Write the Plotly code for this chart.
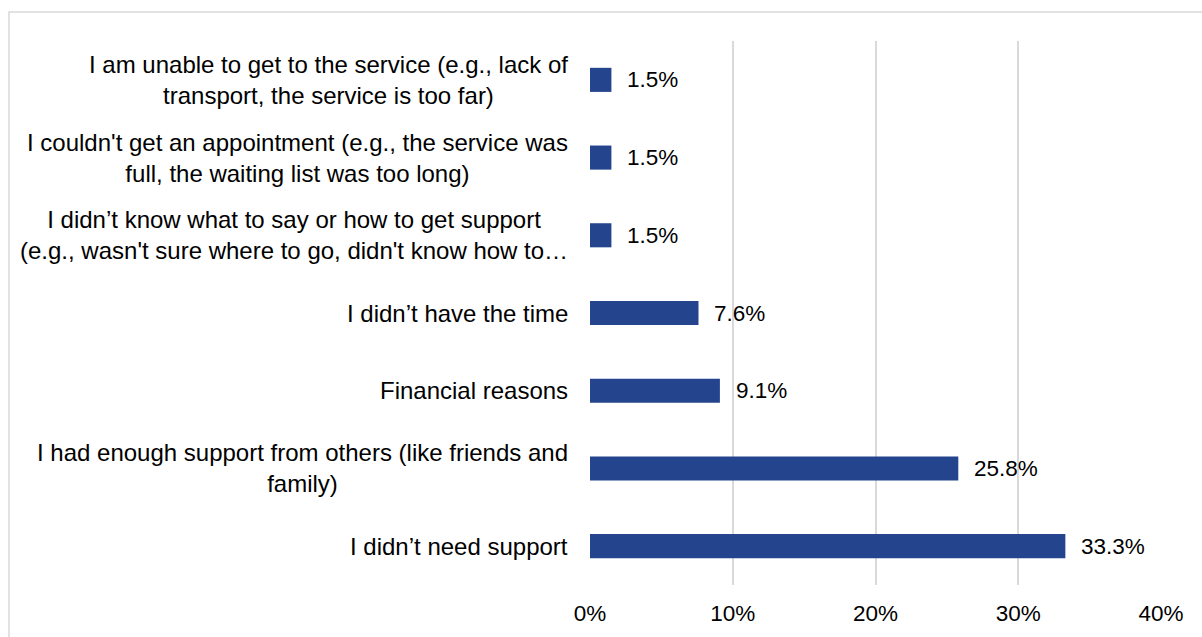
import plotly.graph_objects as go

# Survey responses, listed top to bottom as shown
reasons = [
    "I am unable to get to the service (e.g., lack of<br>transport, the service is too far)",
    "I couldn't get an appointment (e.g., the service was<br>full, the waiting list was too long)",
    "I didn’t know what to say or how to get support<br>(e.g., wasn't sure where to go, didn't know how to…",
    "I didn’t have the time",
    "Financial reasons",
    "I had enough support from others (like friends and<br>family)",
    "I didn’t need support",
]
shares = [1.5, 1.5, 1.5, 7.6, 9.1, 25.8, 33.3]
tick_vals = [0, 10, 20, 30, 40]
tick_text = ["0%", "10%", "20%", "30%", "40%"]

W, H = 1202, 637
ML, MR, MT, MB = 590, 41, 41, 52
FONT = "Liberation Sans, Arial, sans-serif"
FS_CAT = 24
FS_NUM = 22.5
BAR = "#24448E"

fig = go.Figure(
    go.Bar(
        x=shares,
        y=list(range(len(reasons))),
        orientation="h",
        marker=dict(color=BAR, line=dict(width=0)),
        width=0.31,
        hoverinfo="skip",
    )
)

annotations = []
# Category labels, centred lines, right-aligned block next to the axis
for i, r in enumerate(reasons):
    annotations.append(dict(
        x=0, xref="paper", y=i, yref="y", text=r,
        xanchor="right", yanchor="middle", align="center",
        xshift=-20, showarrow=False,
        font=dict(family=FONT, size=FS_CAT, color="#000000"),
    ))
# Value labels just past the end of each bar
for i, v in enumerate(shares):
    annotations.append(dict(
        x=v, xref="x", y=i, yref="y", text=f"{v:.1f}%",
        xanchor="left", yanchor="middle", xshift=14, showarrow=False,
        font=dict(family=FONT, size=FS_NUM, color="#000000"),
    ))

pw = W - ML - MR
ph = H - MT - MB
# Light frame around the chart area
frame = dict(
    type="rect", xref="paper", yref="paper", layer="below",
    x0=(9 - ML) / pw, x1=(W + 5 - ML) / pw,
    y0=-(H + 5 - MT - ph) / ph, y1=(H - 12 - MB) / ph,
    line=dict(color="#D9D9D9", width=1.5), fillcolor="rgba(0,0,0,0)",
)

fig.update_layout(
    width=W, height=H,
    margin=dict(l=ML, r=MR, t=MT, b=MB, pad=0),
    paper_bgcolor="white", plot_bgcolor="white",
    showlegend=False,
    bargap=0.69,
    annotations=annotations,
    shapes=[frame],
    font=dict(family=FONT, size=FS_NUM, color="#000000"),
    xaxis=dict(
        range=[0, 40], tickvals=tick_vals, ticktext=tick_text,
        showgrid=True, gridcolor="#D9D9D9", gridwidth=1.5,
        zeroline=False, showline=False, ticks="",
        ticklabelstandoff=12,
        tickfont=dict(family=FONT, size=FS_NUM, color="#000000"),
        fixedrange=True,
    ),
    yaxis=dict(
        range=[len(reasons) - 0.5, -0.5],
        showticklabels=False, showgrid=False, zeroline=False,
        showline=False, ticks="", fixedrange=True,
    ),
)

fig.write_html("out.html")
